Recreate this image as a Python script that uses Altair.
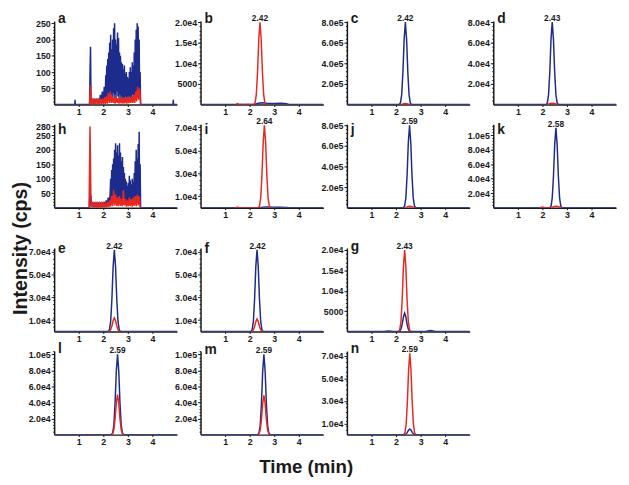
import altair as alt
import pandas as pd

BLUE = "#1d2b8c"
RED = "#e8281e"
INK = "#1a1a1a"
FONT = "Liberation Sans"

X_TICKS = [1, 2, 3, 4]
X_DOMAIN = [0, 5]

# ---------------- panel a (noisy) ----------------
A_BLUE_HEAD_T = [0, 0.84, 0.85, 0.86, 1.44, 1.46, 1.48, 1.50]
A_BLUE_HEAD_V = [0, 0, 15, 0, 0, 100, 178, 20]
A_BLUE_LOW_START, A_BLUE_LOW_STEP = 1.52, 0.04
A_BLUE_LOW_V = [2, 18, 3, 18, 2, 18, 4, 18, 2, 30, 5, 40, 8, 55, 20]
A_BLUE_DENSE_START, A_BLUE_DENSE_STEP = 2.10, 0.02
A_BLUE_DENSE_V = [90, 10, 120, 20, 140, 15, 160, 25, 190, 20, 215, 30, 170, 15, 200, 35,
                  235, 20, 250, 30, 200, 15, 185, 40, 222, 25, 205, 20, 160, 30, 150, 15,
                  130, 25, 125, 10, 110, 20, 120, 15, 95, 25, 100, 10, 85, 20, 80, 15,
                  100, 25, 115, 20, 100, 15, 130, 30, 120, 20, 160, 25, 200, 35, 230, 40,
                  250, 45, 240, 30, 200, 20, 100]
A_BLUE_TAIL_T = [3.52, 4.84, 4.85, 4.86, 5]
A_BLUE_TAIL_V = [0, 0, 15, 0, 0]
A_RED_START, A_RED_STEP = 1.44, 0.04
A_RED_V = [0, 60, 0, 18, 2, 18, 2, 18, 2, 18, 2, 18, 2, 18, 2, 20, 2, 25, 3, 35, 5, 40, 5,
           25, 5, 20, 3, 25, 5, 20, 3, 22, 4, 20, 3, 22, 4, 20, 3, 25, 4, 20, 5, 25, 5, 30,
           5, 40, 10, 55, 15, 50, 0]

# ---------------- panel h (noisy) ----------------
H_BLUE_HEAD_T = [0, 1.44, 1.46, 1.48, 1.50]
H_BLUE_HEAD_V = [0, 0, 100, 10, 40]
H_BLUE_LOW_START, H_BLUE_LOW_STEP = 1.52, 0.04
H_BLUE_LOW_V = [3, 18, 2, 18, 3, 18, 2, 18, 3, 18, 2, 18, 3, 20, 4, 25, 5, 35, 8, 50]
H_BLUE_DENSE_START, H_BLUE_DENSE_STEP = 2.30, 0.02
H_BLUE_DENSE_V = [100, 10, 130, 20, 150, 15, 170, 25, 200, 20, 222, 30, 190, 15, 215, 35,
                  180, 20, 222, 30, 190, 15, 160, 25, 175, 10, 140, 20, 120, 15, 100, 25,
                  90, 10, 75, 20, 85, 15, 110, 25, 95, 15, 80, 10, 100, 25, 90, 15, 120, 30,
                  160, 25, 200, 35, 170, 40, 220, 30, 262, 25, 150]
H_BLUE_TAIL_T = [3.52, 5]
H_BLUE_TAIL_V = [0, 0]
H_RED_START, H_RED_STEP = 1.42, 0.04
H_RED_V = [0, 280, 5, 15, 2, 15, 2, 15, 2, 15, 2, 15, 2, 15, 2, 15, 2, 15, 2, 20, 3, 25, 4,
           40, 5, 60, 8, 45, 6, 35, 5, 40, 6, 30, 5, 60, 8, 30, 4, 25, 5, 35, 5, 30, 4, 35,
           6, 40, 5, 45, 8, 40, 0]

# ---------------- peak panels ----------------
B_BLUE_T = [0, 2.2, 2.35, 2.5, 2.7, 3.0, 3.3, 3.5, 3.6, 5]
B_BLUE_V = [0, 0, 300, 450, 300, 250, 300, 200, 0, 0]
B_RED_T = [1.45, 1.5, 1.55, 2.17, 2.22, 2.27, 2.32, 2.37, 2.42, 2.47, 2.52, 2.57, 2.62, 2.67]
B_RED_V = [0, 250, 0, 0, 400, 2400, 7800, 15800, 20000, 15800, 7800, 2400, 400, 0]

C_BLUE_T = [0, 2.13, 2.18, 2.23, 2.28, 2.33, 2.38, 2.43, 2.48, 2.53, 2.58, 2.63, 5]
C_BLUE_V = [0, 0, 16000, 96000, 312000, 632000, 800000, 632000, 312000, 96000, 16000, 0, 0]
C_RED_T = [2.15, 2.25, 2.32, 2.38, 2.44, 2.52, 2.62]
C_RED_V = [0, 4000, 9000, 11000, 9000, 4000, 0]

D_BLUE_T = [0, 2.15, 2.2, 2.25, 2.3, 2.35, 2.4, 2.45, 2.5, 2.55, 2.6, 2.65, 5]
D_BLUE_V = [0, 0, 1600, 9600, 31200, 63200, 80000, 63200, 31200, 9600, 1600, 0, 0]
D_RED_T = [2.15, 2.25, 2.33, 2.4, 2.47, 2.55, 2.65]
D_RED_V = [0, 500, 1100, 1300, 1100, 500, 0]

I_BLUE_T = [0, 2.4, 2.55, 2.7, 2.9, 3.2, 3.5, 3.6, 5]
I_BLUE_V = [0, 0, 500, 700, 500, 400, 300, 0, 0]
I_RED_T = [1.4, 1.5, 1.6, 2.35, 2.4, 2.45, 2.5, 2.55, 2.6, 2.65, 2.7, 2.75, 2.8, 2.85]
I_RED_V = [0, 300, 0, 0, 1440, 8640, 28080, 56880, 72000, 56880, 28080, 8640, 1440, 0]

J_BLUE_T = [0, 2.3, 2.35, 2.4, 2.45, 2.5, 2.55, 2.6, 2.65, 2.7, 2.75, 2.8, 5]
J_BLUE_V = [0, 0, 16000, 96000, 312000, 632000, 800000, 632000, 312000, 96000, 16000, 0, 0]
J_RED_T = [2.35, 2.43, 2.5, 2.56, 2.62, 2.7, 2.78]
J_RED_V = [0, 5000, 11000, 13000, 11000, 5000, 0]

K_BLUE_T = [0, 2.3, 2.35, 2.4, 2.45, 2.5, 2.55, 2.6, 2.65, 2.7, 2.75, 2.8, 5]
K_BLUE_V = [0, 0, 2200, 13200, 42900, 86900, 110000, 86900, 42900, 13200, 2200, 0, 0]
K_RED_T = [1.9, 2.0, 2.1, 2.35, 2.43, 2.5, 2.56, 2.62, 2.7, 2.8]
K_RED_V = [0, 800, 0, 0, 900, 1800, 2100, 1800, 900, 0]

E_BLUE_T = [0, 2.2, 2.25, 2.3, 2.35, 2.4, 2.45, 2.5, 2.55, 2.6, 2.65, 2.7, 5]
E_BLUE_V = [0, 0, 1440, 8640, 28080, 56880, 72000, 56880, 28080, 8640, 1440, 0, 0]
E_RED_T = [2.2, 2.25, 2.3, 2.35, 2.4, 2.45, 2.5, 2.55, 2.6, 2.65, 2.7]
E_RED_V = [0, 300, 1600, 4800, 9500, 12000, 9500, 4800, 1600, 300, 0]

F_BLUE_T = [0, 2.05, 2.1, 2.15, 2.2, 2.25, 2.3, 2.35, 2.4, 2.45, 2.5, 2.55, 5]
F_BLUE_V = [0, 0, 1440, 8640, 28080, 56880, 72000, 56880, 28080, 8640, 1440, 0, 0]
F_RED_T = [2.05, 2.1, 2.15, 2.2, 2.25, 2.3, 2.35, 2.4, 2.45, 2.5, 2.55]
F_RED_V = [0, 250, 1400, 4400, 8700, 11000, 8700, 4400, 1400, 250, 0]

G_BLUE_T = [0, 1.5, 1.7, 1.9, 2.1, 2.15, 2.2, 2.25, 2.3, 2.35, 2.4, 2.45, 2.5, 2.55, 2.6,
            3.2, 3.4, 3.6, 5]
G_BLUE_V = [0, 0, 150, 0, 0, 90, 540, 1760, 3560, 4500, 3560, 1760, 540, 90, 0, 0, 250, 0, 0]
G_RED_T = [2.1, 2.15, 2.2, 2.25, 2.3, 2.35, 2.4, 2.45, 2.5, 2.55, 2.6]
G_RED_V = [0, 400, 2400, 7800, 15800, 20000, 15800, 7800, 2400, 400, 0]

L_BLUE_T = [0, 2.33, 2.38, 2.43, 2.48, 2.53, 2.58, 2.63, 2.68, 2.73, 2.78, 2.83, 5]
L_BLUE_V = [0, 0, 2000, 12000, 39000, 79000, 100000, 79000, 39000, 12000, 2000, 0, 0]
L_RED_T = [2.33, 2.38, 2.43, 2.48, 2.53, 2.58, 2.63, 2.68, 2.73, 2.78, 2.83]
L_RED_V = [0, 1000, 6000, 19500, 39500, 50000, 39500, 19500, 6000, 1000, 0]

M_BLUE_T = [0, 2.33, 2.38, 2.43, 2.48, 2.53, 2.58, 2.63, 2.68, 2.73, 2.78, 2.83, 5]
M_BLUE_V = [0, 0, 2000, 12000, 39000, 79000, 100000, 79000, 39000, 12000, 2000, 0, 0]
M_RED_T = [2.33, 2.38, 2.43, 2.48, 2.53, 2.58, 2.63, 2.68, 2.73, 2.78, 2.83]
M_RED_V = [0, 1000, 5900, 19000, 39000, 49000, 39000, 19000, 5900, 1000, 0]

N_BLUE_T = [0, 2.31, 2.36, 2.41, 2.46, 2.51, 2.56, 2.61, 2.66, 2.71, 2.76, 2.81, 5]
N_BLUE_V = [0, 0, 100, 600, 1950, 3950, 5000, 3950, 1950, 600, 100, 0, 0]
N_RED_T = [2.31, 2.36, 2.41, 2.46, 2.51, 2.56, 2.61, 2.66, 2.71, 2.76, 2.81]
N_RED_V = [0, 1440, 8640, 28080, 56880, 72000, 56880, 28080, 8640, 1440, 0]

# y axes: (domain max, major ticks, minor step)
Y_A = (257, [50, 100, 150, 200, 250], 10)
Y_B = (20300, [5000, 10000, 15000, 20000], 1000)
Y_C = (810000, [200000, 400000, 600000, 800000], 40000)
Y_D = (81000, [20000, 40000, 60000, 80000], 4000)
Y_H = (288, [50, 100, 150, 200, 250, 280], 10)
Y_I = (73000, [10000, 30000, 50000, 70000], 4000)
Y_J = (810000, [200000, 400000, 600000, 800000], 40000)
Y_K = (115000, [20000, 40000, 60000, 80000, 100000], 4000)
Y_E = (73500, [10000, 30000, 50000, 70000], 4000)
Y_F = (73500, [10000, 30000, 50000, 70000], 4000)
Y_G = (20500, [5000, 10000, 15000, 20000], 1000)
Y_L = (104000, [20000, 40000, 60000, 80000, 100000], 4000)
Y_M = (104000, [20000, 40000, 60000, 80000, 100000], 4000)
Y_N = (74000, [10000, 30000, 50000, 70000], 4000)

# peak labels: (text, time, intensity)
LAB_B = ("2.42", 2.42, 20000)
LAB_C = ("2.42", 2.38, 800000)
LAB_D = ("2.43", 2.40, 80000)
LAB_I = ("2.64", 2.60, 72000)
LAB_J = ("2.59", 2.55, 800000)
LAB_K = ("2.58", 2.55, 110000)
LAB_E = ("2.42", 2.45, 72000)
LAB_F = ("2.42", 2.32, 72000)
LAB_G = ("2.43", 2.35, 20000)
LAB_L = ("2.59", 2.58, 100000)
LAB_M = ("2.59", 2.58, 100000)
LAB_N = ("2.59", 2.56, 72000)


def grid(start, step, n):
    return [round(start + step * i, 3) for i in range(n)]


A_BLUE_T = (A_BLUE_HEAD_T + grid(A_BLUE_LOW_START, A_BLUE_LOW_STEP, len(A_BLUE_LOW_V))
            + grid(A_BLUE_DENSE_START, A_BLUE_DENSE_STEP, len(A_BLUE_DENSE_V)) + A_BLUE_TAIL_T)
A_BLUE_V = A_BLUE_HEAD_V + A_BLUE_LOW_V + A_BLUE_DENSE_V + A_BLUE_TAIL_V
A_RED_T = grid(A_RED_START, A_RED_STEP, len(A_RED_V))
H_BLUE_T = (H_BLUE_HEAD_T + grid(H_BLUE_LOW_START, H_BLUE_LOW_STEP, len(H_BLUE_LOW_V))
            + grid(H_BLUE_DENSE_START, H_BLUE_DENSE_STEP, len(H_BLUE_DENSE_V)) + H_BLUE_TAIL_T)
H_BLUE_V = H_BLUE_HEAD_V + H_BLUE_LOW_V + H_BLUE_DENSE_V + H_BLUE_TAIL_V
H_RED_T = grid(H_RED_START, H_RED_STEP, len(H_RED_V))

W, H = 125, 85
LABEL_EXPR = ("datum.value >= 10000 ? replace(format(datum.value, '.1e'), 'e+', 'e') "
              ": format(datum.value, 'd')")


def panel(letter, bt, bv, rt, rv, yinfo, lab=None, letter_dy=2, yextra=None, xextra=None):
    ymax, major, step = yinfo
    minor = list(range(step, int(ymax) + 1, step))
    yscale = alt.Scale(domain=[0, ymax], nice=False, zero=True)
    xscale = alt.Scale(domain=X_DOMAIN, nice=False)
    xax = alt.Axis(values=X_TICKS, format="d", tickSize=2, labelPadding=1,
                   **(xextra or {"title": None}))
    yax_major = alt.Axis(values=major, labelExpr=LABEL_EXPR, tickSize=3, labelPadding=1,
                         labelOverlap=False, orient="left", **(yextra or {"title": None}))
    yax_minor = alt.Axis(values=minor, labels=False, domain=False, tickSize=1.5,
                         orient="left", title=None)
    blue = alt.Chart(pd.DataFrame({"t": bt, "v": bv})).mark_line(
        color=BLUE, strokeWidth=1.5, clip=True).encode(
        x=alt.X("t:Q", scale=xscale, axis=xax),
        y=alt.Y("v:Q", scale=yscale, axis=yax_major))
    red = alt.Chart(pd.DataFrame({"t": rt, "v": rv})).mark_line(
        color=RED, strokeWidth=1.5, clip=True).encode(
        x=alt.X("t:Q", scale=xscale),
        y=alt.Y("v:Q", scale=yscale, axis=yax_minor))
    letter_df = pd.DataFrame({"label": [letter], "t": [X_DOMAIN[0]], "v": [ymax]})
    let = alt.Chart(letter_df).mark_text(
        font=FONT, fontSize=14, fontWeight="bold", color=INK, align="left",
        baseline="alphabetic", dx=4, dy=letter_dy
    ).encode(x=alt.X("t:Q", scale=xscale), y=alt.Y("v:Q", scale=yscale, axis=None),
             text="label:N")
    layers = [blue, red, let]
    if lab:
        lab_df = pd.DataFrame({"label": [lab[0]], "t": [lab[1]], "v": [lab[2]]})
        layers.append(alt.Chart(lab_df).mark_text(
            font=FONT, fontSize=8.5, fontWeight="bold", color=INK, baseline="alphabetic", dy=-1
        ).encode(x=alt.X("t:Q", scale=xscale), y=alt.Y("v:Q", scale=yscale, axis=None),
                 text="label:N"))
    return alt.layer(*layers).resolve_axis(y="independent").properties(width=W, height=H)


def blank(h):
    return alt.Chart(pd.DataFrame({"t": [0]})).mark_point(opacity=0).encode(
        x=alt.X("t:Q", axis=None), y=alt.Y("t:Q", axis=None)).properties(width=W, height=h)


Y_TITLE = {"title": "Intensity (cps)", "titleFont": FONT, "titleFontSize": 20,
           "titleFontWeight": "bold", "titleColor": INK, "titleAngle": 270,
           "titleX": -28, "titleY": 126, "titleAlign": "center", "titleBaseline": "alphabetic"}
X_TITLE = {"title": "Time (min)", "titleFont": FONT, "titleFontSize": 19,
           "titleFontWeight": "bold", "titleColor": INK,
           "titleX": 107, "titleY": 39, "titleAlign": "center", "titleBaseline": "alphabetic"}

cells = [
    panel("a", A_BLUE_T, A_BLUE_V, A_RED_T, A_RED_V, Y_A, None, 2),
    panel("b", B_BLUE_T, B_BLUE_V, B_RED_T, B_RED_V, Y_B, LAB_B, 2),
    panel("c", C_BLUE_T, C_BLUE_V, C_RED_T, C_RED_V, Y_C, LAB_C, 2),
    panel("d", D_BLUE_T, D_BLUE_V, D_RED_T, D_RED_V, Y_D, LAB_D, 2),
    panel("h", H_BLUE_T, H_BLUE_V, H_RED_T, H_RED_V, Y_H, None, 10, yextra=Y_TITLE),
    panel("i", I_BLUE_T, I_BLUE_V, I_RED_T, I_RED_V, Y_I, LAB_I, 10),
    panel("j", J_BLUE_T, J_BLUE_V, J_RED_T, J_RED_V, Y_J, LAB_J, 10),
    panel("k", K_BLUE_T, K_BLUE_V, K_RED_T, K_RED_V, Y_K, LAB_K, 10),
    blank(1), blank(1), blank(1), blank(1),
    panel("e", E_BLUE_T, E_BLUE_V, E_RED_T, E_RED_V, Y_E, LAB_E, 5),
    panel("f", F_BLUE_T, F_BLUE_V, F_RED_T, F_RED_V, Y_F, LAB_F, 5),
    panel("g", G_BLUE_T, G_BLUE_V, G_RED_T, G_RED_V, Y_G, LAB_G, 3),
    blank(H),
    panel("l", L_BLUE_T, L_BLUE_V, L_RED_T, L_RED_V, Y_L, LAB_L, 2),
    panel("m", M_BLUE_T, M_BLUE_V, M_RED_T, M_RED_V, Y_M, LAB_M, 3, xextra=X_TITLE),
    panel("n", N_BLUE_T, N_BLUE_V, N_RED_T, N_RED_V, Y_N, LAB_N, 2),
    blank(H),
]

chart = alt.concat(*cells, columns=4, spacing={"row": 20, "column": 24}, bounds="flush").properties(
    padding={"left": 2, "top": 0, "right": 5, "bottom": 5}, background="white"
).configure_view(stroke=None).configure_axis(
    labelFont=FONT, labelFontWeight="bold", labelFontSize=9, labelColor=INK,
    domainColor=INK, domainWidth=1.5, tickColor=INK, tickWidth=1, grid=False
)

chart.save("out.html", embed_options={"renderer": "svg", "actions": False})
